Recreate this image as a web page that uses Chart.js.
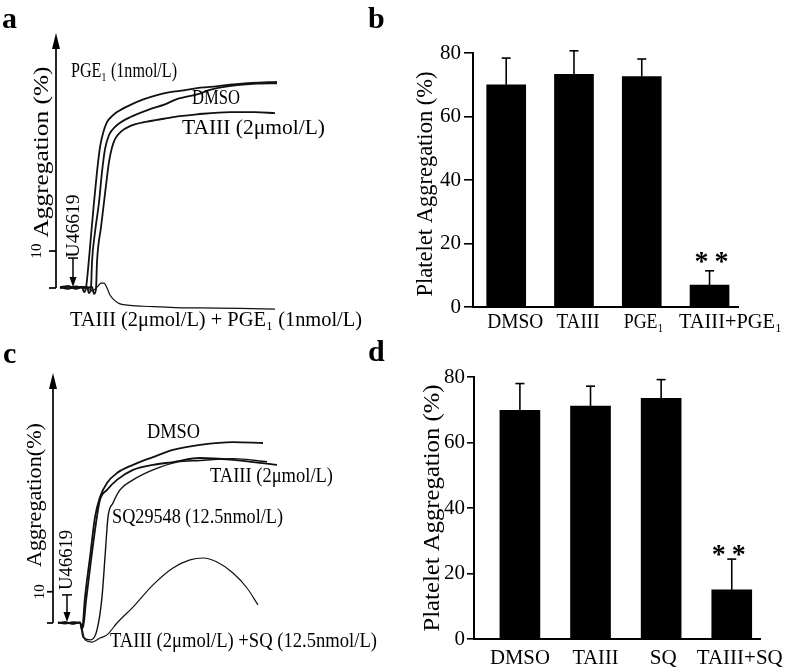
<!DOCTYPE html>
<html>
<head>
<meta charset="utf-8">
<script src="https://cdn.jsdelivr.net/npm/chart.js@4.4.0/dist/chart.umd.min.js"></script>
<style>
  body { margin: 0; background: #fff; }
  #wrap { position: relative; width: 787px; height: 670px; overflow: hidden; }
  canvas { position: absolute; }
  .letter { position: absolute; font: bold 30px "Liberation Serif", serif; line-height: 30px; color: #000; }
</style>
</head>
<body>
<div id="wrap">
  <canvas id="chartA" width="390" height="335" style="left:0;top:0"></canvas>
  <canvas id="chartB" width="397" height="335" style="left:390px;top:0"></canvas>
  <canvas id="chartC" width="390" height="335" style="left:0;top:335px"></canvas>
  <canvas id="chartD" width="397" height="335" style="left:390px;top:335px"></canvas>
  <div class="letter" style="left:2px;top:3px">a</div>
  <div class="letter" style="left:368px;top:3px">b</div>
  <div class="letter" style="left:3px;top:338px">c</div>
  <div class="letter" style="left:368px;top:336px">d</div>
</div>
<script>
const FONT = '"Liberation Serif", "Times New Roman", serif';

// ---- panel a: aggregation traces (time s, aggregation %)
const tA_pge = [4, 12, 20, 26, 28, 30, 32, 35, 38, 41, 44, 47, 51, 56, 61, 74, 88, 101, 114, 128, 141, 154, 174, 196, 221];
const vA_pge = [0.3, 0.5, 0, 0.3, -1.1, 0, 4.9, 14.1, 23.2, 31.4, 38.1, 41.9, 44.9, 46.5, 47.6, 49.5, 51.1, 52.2, 53.0, 53.5, 54.1, 54.4, 55.0, 55.5, 55.8];
const tA_dmso = [4, 12, 20, 27, 31, 33, 35, 36, 39, 43, 46, 49, 53, 56, 62, 74, 94, 109, 121, 141, 154, 161, 181, 201, 221];
const vA_dmso = [0, 0.4, -0.2, 0.3, 0.3, -1.4, 0, 7.0, 15.1, 23.2, 31.4, 37.6, 41.4, 42.7, 44.3, 46.2, 48.4, 49.7, 51.1, 52.4, 53.6, 54.1, 54.9, 55.3, 55.4];
const tA_taiii = [4, 12, 20, 28, 36, 38, 40, 41, 45, 48, 51, 53, 56, 59, 65, 74, 91, 108, 124, 141, 174, 199, 219];
const vA_taiii = [0.2, -0.2, 0.4, 0, 0.3, -1.6, -0.3, 7.0, 16.5, 23.2, 30.0, 34.1, 38.0, 40.3, 42.3, 43.8, 45.0, 45.8, 46.5, 47.0, 47.6, 47.6, 47.3];
const tA_combo = [4, 14, 24, 32, 36, 39, 42, 45, 48, 51, 54, 58, 64, 74, 94, 119, 144, 184, 219];
const vA_combo = [0.3, 0, 0.3, 0, -0.8, -0.3, 0.5, 1.3, 1.3, 0, -1.9, -3.2, -4.3, -4.7, -5.0, -5.3, -5.4, -5.5, -5.7];

// ---- panel c: aggregation traces
const tC_dmso = [5, 12, 20, 27, 29, 32, 37, 42, 47, 54, 64, 80, 100, 120, 147, 180, 210];
const vC_dmso = [0, 0.3, -0.3, 0.2, -2.2, 8.3, 21.1, 33.9, 40.3, 44.8, 48.0, 50.6, 53.1, 55.4, 57.0, 57.9, 57.6];
const tC_taiii = [5, 12, 20, 27, 30, 33, 38, 43, 47, 54, 64, 80, 100, 120, 147, 180, 224];
const vC_taiii = [0.2, -0.2, 0.3, 0, -1.5, 7.0, 20.0, 32.0, 39.4, 42.6, 45.8, 49.0, 50.6, 51.5, 52.8, 52.2, 50.6];
const tC_sq = [5, 12, 20, 27, 30, 37, 44, 49, 52, 55, 60, 67, 80, 100, 124, 147, 180, 214];
const vC_sq = [0.2, 0, -0.2, 0.2, -4.5, -5.4, -2.2, 8.3, 21.1, 33.9, 38.4, 42.6, 45.8, 49.0, 51.5, 52.0, 52.6, 51.6];
const tC_combo = [5, 12, 20, 27, 32, 39, 47, 54, 64, 80, 100, 120, 137, 150, 164, 180, 194, 205];
const vC_combo = [0, 0.3, -0.2, 0.2, -5.4, -6.1, -4.8, -3.8, 0, 5.1, 12.2, 17.6, 20.2, 20.8, 19.5, 16.0, 11.2, 5.8];

// ---- panels b and d: mean platelet aggregation (%) with SD
const catsB = ['DMSO', 'TAIII', 'PGE₁', 'TAIII+PGE₁'];
const meanB = [70.0, 73.3, 72.6, 6.9];
const errB = [8.4, 7.4, 5.5, 4.5];
const catsD = ['DMSO', 'TAIII', 'SQ', 'TAIII+SQ'];
const meanD = [69.8, 71.1, 73.5, 15.0];
const errD = [8.2, 6.1, 5.7, 9.4];
const ticksBar = [0, 20, 40, 60, 80];
const ticksTrace = [0, 10];

const pts = (t, v) => t.map((x, i) => ({ x: x, y: v[i] }));

function trace(t, v, w) {
  return { data: pts(t, v), borderColor: '#111', borderWidth: w, pointRadius: 0,
    clip: false, fill: false, cubicInterpolationMode: 'monotone' };
}

// text squeezed / stretched to the width it has in the figure
function fitText(ctx, text, x, y, size, width, angle, align) {
  ctx.save();
  ctx.font = size + 'px ' + FONT;
  const w = ctx.measureText(text).width;
  ctx.translate(x, y);
  if (angle) ctx.rotate(angle);
  if (width) ctx.scale(width / w, 1);
  ctx.textAlign = align || 'left';
  ctx.textBaseline = 'middle';
  ctx.fillStyle = '#000';
  ctx.fillText(text, 0, 0);
  ctx.restore();
}

const traceAxis = {
  id: 'traceAxis',
  afterDraw(chart, args, o) {
    const ctx = chart.ctx, xs = chart.scales.x, ys = chart.scales.y;
    const ax = xs.getPixelForValue(0), y0 = ys.getPixelForValue(0), top = chart.chartArea.top;
    ctx.save();
    ctx.strokeStyle = '#000';
    ctx.fillStyle = '#000';
    ctx.lineWidth = 1.7;
    // vertical axis with arrow head
    ctx.beginPath(); ctx.moveTo(ax, y0); ctx.lineTo(ax, top + 8); ctx.stroke();
    ctx.beginPath(); ctx.moveTo(ax, top); ctx.lineTo(ax - 4, top + 16); ctx.lineTo(ax + 4, top + 16); ctx.closePath(); ctx.fill();
    o.ticks.forEach(v => {
      const py = ys.getPixelForValue(v);
      ctx.beginPath(); ctx.moveTo(ax - o.tickLen, py); ctx.lineTo(ax, py); ctx.stroke();
    });
    fitText(ctx, String(o.ticks[1]), ax + o.tickDx, ys.getPixelForValue(o.ticks[1]), 15, null, -Math.PI / 2, 'center');
    fitText(ctx, o.title, ax + o.titleDx, o.titleY, 22, o.titleLen, -Math.PI / 2, 'center');

    // agonist addition arrow
    const ag = o.agonist;
    const mx = xs.getPixelForValue(ag.t), mTop = ys.getPixelForValue(ag.from), mBot = ys.getPixelForValue(ag.to);
    ctx.lineWidth = 1.5;
    ctx.beginPath(); ctx.moveTo(mx, mTop); ctx.lineTo(mx, mBot - 8); ctx.stroke();
    ctx.beginPath(); ctx.moveTo(mx - 5, mTop); ctx.lineTo(mx + 5, mTop); ctx.stroke();
    ctx.beginPath(); ctx.moveTo(mx, mBot); ctx.lineTo(mx - 3.5, mBot - 10); ctx.lineTo(mx + 3.5, mBot - 10); ctx.closePath(); ctx.fill();
    fitText(ctx, ag.text, mx + ag.dx, ys.getPixelForValue(ag.at), 19, ag.len, -Math.PI / 2, 'center');

    o.labels.forEach(l => fitText(ctx, l.text, xs.getPixelForValue(l.t), ys.getPixelForValue(l.v), l.size, l.width));
    ctx.restore();
  }
};

const barExtras = {
  id: 'barExtras',
  afterDatasetsDraw(chart, args, o) {
    const ctx = chart.ctx, xs = chart.scales.x, ys = chart.scales.y;
    ctx.save();
    ctx.strokeStyle = '#000';
    ctx.fillStyle = '#000';
    ctx.lineWidth = 1.6;
    o.means.forEach((m, i) => {
      const px = xs.getPixelForValue(i);
      const yb = ys.getPixelForValue(m), yt = ys.getPixelForValue(m + o.errs[i]);
      ctx.beginPath(); ctx.moveTo(px, yb); ctx.lineTo(px, yt); ctx.stroke();
      ctx.beginPath(); ctx.moveTo(px - 4.5, yt); ctx.lineTo(px + 4.5, yt); ctx.stroke();
    });
    o.stars.forEach(i => {
      const px = xs.getPixelForValue(i) + o.starDx;
      const yc = ys.getPixelForValue(o.means[i] + o.errs[i]) - o.starGap;
      ctx.font = 'bold 28px ' + FONT;
      ctx.textAlign = 'center';
      ctx.textBaseline = 'alphabetic';
      ctx.fillText('*', px - 10, yc + 13);
      ctx.fillText('*', px + 10, yc + 13);
    });
    // category labels, each at the width it takes in the figure
    const ly = chart.chartArea.bottom + o.labelGap;
    o.cats.forEach((c, i) => {
      fitText(ctx, c, xs.getPixelForValue(i) + o.labelDx[i], ly, 21, o.labelW[i], 0, 'center');
    });
    fitText(ctx, o.title, o.titleX, o.titleY, 23, o.titleLen, -Math.PI / 2, 'center');
    ctx.restore();
  }
};

function traceChart(id, datasets, pad, ymax, extra) {
  return new Chart(document.getElementById(id), {
    type: 'line',
    data: { datasets: datasets },
    options: {
      responsive: false, animation: false, devicePixelRatio: 1,
      layout: { padding: pad },
      scales: {
        x: { type: 'linear', display: false, min: 0, max: 240 },
        y: { type: 'linear', display: false, min: 0, max: ymax }
      },
      plugins: { legend: { display: false }, tooltip: { enabled: false }, traceAxis: extra }
    },
    plugins: [traceAxis]
  });
}

function barChart(id, cats, means, errs, o) {
  return new Chart(document.getElementById(id), {
    type: 'bar',
    data: {
      datasets: [{
        data: means.map((m, i) => ({ x: i, y: m })),
        backgroundColor: '#000', borderWidth: 0, barThickness: o.barW
      }]
    },
    options: {
      responsive: false, animation: false, devicePixelRatio: 1,
      layout: { padding: { top: o.top, right: o.right, left: 0, bottom: 0 } },
      scales: {
        x: {
          type: 'linear', min: o.xmin, max: o.xmax, offset: false,
          afterBuildTicks: s => { s.ticks = cats.map((c, i) => ({ value: i })); },
          afterFit: s => { s.height = o.xh; s.paddingLeft = 0; s.paddingRight = 0; },
          grid: { display: false, drawTicks: false },
          border: { display: true, color: '#000', width: 2 },
          ticks: { display: false }
        },
        y: {
          min: 0, max: 80,
          afterBuildTicks: s => { s.ticks = ticksBar.map(v => ({ value: v })); },
          afterFit: s => { s.width = o.yw; },
          grid: { display: true, drawOnChartArea: false, drawTicks: true, tickLength: o.tickLen, color: '#000', lineWidth: 1.6 },
          border: { display: true, color: '#000', width: 2 },
          ticks: { color: '#000', font: { family: FONT, size: 21 }, padding: o.ypad }
        }
      },
      plugins: {
        legend: { display: false }, tooltip: { enabled: false },
        barExtras: { means: means, errs: errs, cats: cats, stars: [3], starGap: o.starGap, starDx: o.starDx,
          labelGap: o.labelGap, labelDx: o.labelDx, labelW: o.labelW,
          title: 'Platelet Aggregation (%)', titleX: o.titleX, titleY: o.titleY, titleLen: o.titleLen }
      }
    },
    plugins: [barExtras]
  });
}

traceChart('chartA', [
  trace(tA_combo, vA_combo, 1.2),
  trace(tA_taiii, vA_taiii, 1.8),
  trace(tA_dmso, vA_dmso, 1.8),
  trace(tA_pge, vA_pge, 1.8)
], { left: 56, top: 33, right: 94, bottom: 47 }, 69, {
  ticks: ticksTrace, tickLen: 7, tickDx: -19,
  title: 'Aggregation (%)', titleDx: -14, titleY: 152, titleLen: 171,
  agonist: { text: 'U46619', t: 17, from: 8.1, to: 0.3, at: 16.8, dx: 1, len: 63 },
  labels: [
    { text: 'PGE₁ (1nmol/L)', t: 15, v: 58.6, size: 20, width: 106 },
    { text: 'DMSO', t: 136, v: 51.2, size: 20, width: 48 },
    { text: 'TAIII (2μmol/L)', t: 126, v: 43.2, size: 21, width: 143 },
    { text: 'TAIII (2μmol/L) + PGE₁ (1nmol/L)', t: 14, v: -8.9, size: 21, width: 292 }
  ]
});

traceChart('chartC', [
  trace(tC_combo, vC_combo, 1.2),
  trace(tC_sq, vC_sq, 1.4),
  trace(tC_taiii, vC_taiii, 1.8),
  trace(tC_dmso, vC_dmso, 1.8)
], { left: 53, top: 38, right: 97, bottom: 47 }, 80, {
  ticks: ticksTrace, tickLen: 6, tickDx: -13,
  title: 'Aggregation(%)', titleDx: -18, titleY: 160, titleLen: 144,
  agonist: { text: 'U46619', t: 14, from: 9.0, to: 0.3, at: 20.2, dx: 0, len: 60 },
  labels: [
    { text: 'DMSO', t: 94, v: 60.8, size: 20, width: 53 },
    { text: 'TAIII (2μmol/L)', t: 157, v: 46.7, size: 20, width: 123 },
    { text: 'SQ29548 (12.5nmol/L)', t: 59, v: 33.6, size: 20, width: 171 },
    { text: 'TAIII (2μmol/L) +SQ (12.5nmol/L)', t: 57, v: -6.1, size: 20, width: 267 }
  ]
});

barChart('chartB', catsB, meanB, errB, {
  barW: 39, top: 53, right: 49, xmin: -0.49, xmax: 3.42, xh: 28, yw: 83,
  tickLen: 9, ypad: 3, starGap: 14, starDx: 2, titleX: 36, titleY: 184, titleLen: 225,
  labelGap: 15, labelDx: [9, 4, 2, 21], labelW: [56, 43, 40, 103]
});

barChart('chartD', catsD, meanD, errD, {
  barW: 40, top: 42, right: 27, xmin: -0.65, xmax: 3.4, xh: 31, yw: 84,
  tickLen: 7, ypad: 2, starGap: 9, starDx: -3, titleX: 43, titleY: 173, titleLen: 247,
  labelGap: 19, labelDx: [0, 5, 2, 8], labelW: [60, 46, 27, 86]
});
</script>
</body>
</html>
